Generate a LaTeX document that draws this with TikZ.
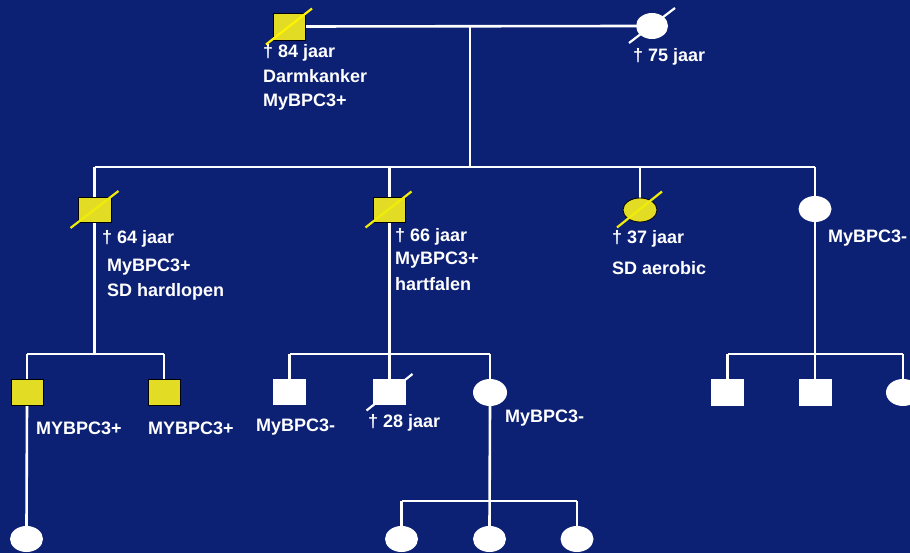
\documentclass[tikz,border=0pt]{standalone}
\usepackage{fontspec}
\setmainfont{Liberation Sans}
\usetikzlibrary{shapes.geometric}
\definecolor{navy}{RGB}{12,32,116}
\definecolor{pedyellow}{RGB}{226,221,36}
\definecolor{slashyellow}{RGB}{240,236,10}
\pgfdeclarelayer{bglayer}
\pgfdeclarelayer{connlayer}
\pgfsetlayers{bglayer,connlayer,main}
\begin{document}
\begin{tikzpicture}[x=1pt,y=-1pt,
  conn/.style={draw=white, line width=2.6pt},
  ysq/.style={rectangle, draw=black, line width=0.8pt, fill=pedyellow, minimum width=32pt, minimum height=26pt, inner sep=0pt},
  wsq/.style={rectangle, fill=white, minimum width=33pt, minimum height=26pt, inner sep=0pt},
  ycirc/.style={ellipse, draw=black, line width=0.8pt, fill=pedyellow, minimum width=34pt, minimum height=24pt, inner sep=0pt},
  wcirc/.style={ellipse, fill=white, minimum width=34pt, minimum height=27pt, inner sep=0pt},
  lbl/.style={text=white, font=\bfseries\fontsize{18}{21}\selectfont, anchor=west, inner sep=0pt},
  yslash/.style={draw=slashyellow, line width=2.2pt},
  wslash/.style={draw=white, line width=2.2pt}]
\begin{pgfonlayer}{bglayer}
\fill[navy] (0,0) rectangle (910,553);
\end{pgfonlayer}
\useasboundingbox (0,0) rectangle (910,553);
\clip (0,0) rectangle (910,553);

% generation I
\node[ysq, minimum width=32pt, minimum height=27pt] (gf) at (289,26.5) {};
\node[wcirc, minimum width=32pt, minimum height=26pt] (gm) at (652,26) {};
\coordinate (mar) at (470,26);
\coordinate (s1) at (470,167);
\coordinate (s1l) at (94.5,167);
\coordinate (s1r) at (815,167);

% generation II
\node[ysq, minimum width=33pt, minimum height=25pt] (c1) at (94.5,209.5) {};
\node[ysq, minimum width=32pt, minimum height=25pt] (c2) at (389.5,209.5) {};
\node[ycirc] (c3) at (640,210) {};
\node[wcirc, minimum width=33pt, minimum height=26pt] (c4) at (815,209) {};

% generation III
\coordinate (s2l) at (27,354);
\coordinate (s2r) at (164,354);
\node[ysq] (g1) at (27,392) {};
\node[ysq] (g2) at (164,392) {};
\coordinate (s3l) at (289.5,354);
\coordinate (s3r) at (490,354);
\node[wsq] (g3) at (289.5,392) {};
\node[wsq] (g4) at (389.5,392) {};
\node[wcirc] (g5) at (490,392.5) {};
\coordinate (s4l) at (727.5,354);
\coordinate (s4r) at (903,354);
\node[wsq, minimum height=27pt] (g6) at (727.5,392.5) {};
\node[wsq, minimum height=27pt] (g7) at (815,392.5) {};
\node[wcirc] (g8) at (903,392.5) {};

% generation IV
\node[wcirc, minimum width=33pt, minimum height=26pt] (h1) at (26.5,539) {};
\coordinate (s5l) at (401.5,501);
\coordinate (s5r) at (577,501);
\node[wcirc, minimum width=33pt, minimum height=26pt] (h2) at (401.5,539) {};
\node[wcirc, minimum width=33pt, minimum height=26pt] (h3) at (489.5,539) {};
\node[wcirc, minimum width=33pt, minimum height=26pt] (h4) at (577,539) {};

% connectors (below the symbols)
\begin{pgfonlayer}{connlayer}
\draw[conn] (gf.east) -- (gm.west);
\draw[conn] (mar) -- (s1);
\draw[conn] (s1l) -- (s1r);
\draw[conn] (s1l) -- (c1.north);
\draw[conn] (c2.north |- s1) -- (c2.north);
\draw[conn] (c3.north |- s1) -- (c3.north);
\draw[conn] (s1r) -- (c4.north);
% family of c1
\draw[conn] (c1.south) -- (c1.south |- s2l);
\draw[conn] (s2l) -- (s2r);
\draw[conn] (s2l) -- (g1.north);
\draw[conn] (s2r) -- (g2.north);
% family of c2
\draw[conn] (c2.south) -- (g4.north);
\draw[conn] (s3l) -- (s3r);
\draw[conn] (s3l) -- (g3.north);
\draw[conn] (s3r) -- (g5.north);
% family of c4
\draw[conn] (c4.south) -- (g7.north);
\draw[conn] (s4l) -- (s4r);
\draw[conn] (s4l) -- (g6.north);
\draw[conn] (s4r) -- (g8.north);
% generation IV
\draw[conn] (g1.south) -- (h1.north);
\draw[conn] (g5.south) -- (h3.north);
\draw[conn] (s5l) -- (s5r);
\draw[conn] (s5l) -- (h2.north);
\draw[conn] (s5r) -- (h4.north);
\end{pgfonlayer}

% deceased slashes
\draw[yslash, draw=yellow] ([shift={(-23,18)}]gf.center) -- ([shift={(23,-18)}]gf.center);
\draw[wslash] ([shift={(-23,17)}]gm.center) -- ([shift={(23,-18)}]gm.center);
\draw[yslash] ([shift={(-24,18.5)}]c1.center) -- ([shift={(24,-18.5)}]c1.center);
\draw[yslash] ([shift={(-24,18)}]c2.center) -- ([shift={(22,-18)}]c2.center);
\draw[yslash] ([shift={(-23,17.5)}]c3.center) -- ([shift={(22,-18.5)}]c3.center);
\draw[wslash] ([shift={(-23,18.5)}]g4.center) -- ([shift={(23,-18)}]g4.center);

% labels
\node[lbl] (t1) at (263,53) {† 84 jaar};
\node[lbl] (t2) at (263,76) {Darmkanker};
\node[lbl] (t3) at (263,102) {MyBPC3+};
\node[lbl] (t4) at (633,57) {† 75 jaar};
\node[lbl] (t5) at (102,239) {† 64 jaar};
\node[lbl] (t6) at (107,267) {MyBPC3+};
\node[lbl] (t7) at (107,292) {SD hardlopen};
\node[lbl] (t8) at (395,237) {† 66 jaar};
\node[lbl] (t9) at (395,260) {MyBPC3+};
\node[lbl] (t10) at (395,284) {hartfalen};
\node[lbl] (t11) at (612,239) {† 37 jaar};
\node[lbl] (t12) at (612,268) {SD aerobic};
\node[lbl] (t13) at (828,238) {MyBPC3-};
\node[lbl] (t14) at (36,428) {MYBPC3+};
\node[lbl] (t15) at (148,428) {MYBPC3+};
\node[lbl] (t16) at (256,427) {MyBPC3-};
\node[lbl] (t17) at (368,423) {† 28 jaar};
\node[lbl] (t18) at (505,418) {MyBPC3-};
\end{tikzpicture}
\end{document}
